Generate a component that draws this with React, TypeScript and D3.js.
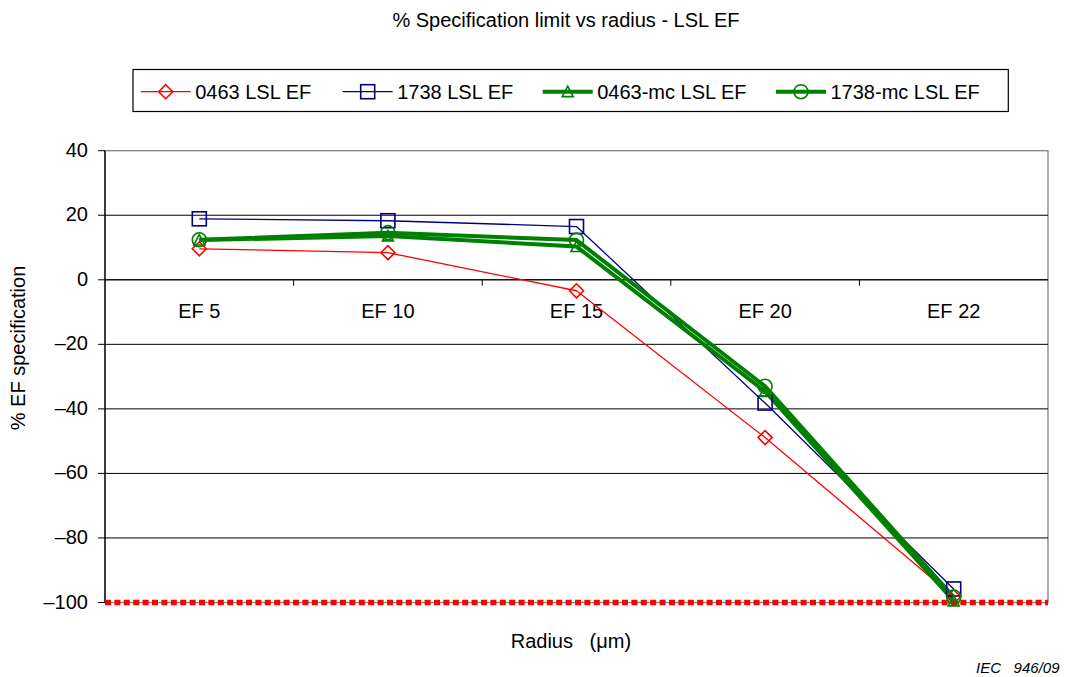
import React from "react";
import * as d3 from "d3";

const categories = ["EF 5", "EF 10", "EF 15", "EF 20", "EF 22"];
const s0463 = [9.6, 8.4, -3.4, -48.9, -98.2];
const s1738 = [18.9, 18.3, 16.5, -38.2, -95.8];
const s0463mc = [12.3, 13.6, 10.3, -34.6, -99.5];
const s1738mc = [12.4, 14.6, 12.3, -33.0, -98.3];
const yTicks = [40, 20, 0, -20, -40, -60, -80, -100];
const limitValue = -100;

type Series = { name: string; values: number[]; color: string; width: number; marker: string };
const series: Series[] = [
  { name: "0463 LSL EF", values: s0463, color: "#FF0000", width: 1.3, marker: "diamond" },
  { name: "1738 LSL EF", values: s1738, color: "#000080", width: 1.3, marker: "square" },
  { name: "0463-mc LSL EF", values: s0463mc, color: "#008000", width: 4, marker: "triangle" },
  { name: "1738-mc LSL EF", values: s1738mc, color: "#008000", width: 4, marker: "circle" },
];

const W = 1066, H = 677;
const L = 105, R = 1048, T = 150.7, B = 602.5;
const FONT = "Arial, 'Liberation Sans', Helvetica, sans-serif";

function Marker({ type, x, y, color }: { type: string; x: number; y: number; color: string }) {
  const common = { fill: "none", stroke: color, strokeWidth: 1.6 };
  if (type === "diamond") {
    const r = 7;
    return <path d={`M${x},${y - r}L${x + r},${y}L${x},${y + r}L${x - r},${y}Z`} {...common} />;
  }
  if (type === "square") {
    const r = 7;
    return <rect x={x - r} y={y - r} width={2 * r} height={2 * r} {...common} />;
  }
  if (type === "triangle") {
    const r = 5.5;
    return <path d={`M${x},${y - r}L${x + r},${y + r * 0.9}L${x - r},${y + r * 0.9}Z`} {...common} />;
  }
  return <circle cx={x} cy={y} r={7} {...common} />;
}

export default function App() {
  const x = d3.scaleBand<string>().domain(categories).range([L, R]);
  const y = d3.scaleLinear().domain([-100, 40]).range([B, T]);
  const cx = (c: string) => (x(c) as number) + x.bandwidth() / 2;
  const line = d3
    .line<number>()
    .x((_, i) => cx(categories[i]))
    .y((v) => y(v));
  const zeroY = y(0);

  const legendItems = [
    { s: series[0], lx: 140.7 },
    { s: series[1], lx: 342.7 },
    { s: series[2], lx: 542.7 },
    { s: series[3], lx: 776 },
  ];
  const legendY = 91.7;

  return (
    <svg width={W} height={H} style={{ position: "absolute", left: 0, top: 0, background: "white" }} fontFamily={FONT}>
      <rect x={0} y={0} width={W} height={H} fill="white" />
      <text x={566} y={27} textAnchor="middle" fontSize={20} fill="#000">
        % Specification limit vs radius - LSL EF
      </text>

      {/* legend */}
      <rect x={133} y={69.5} width={875.3} height={42} fill="white" stroke="#000" strokeWidth={1.2} />
      {legendItems.map(({ s, lx }) => (
        <g key={s.name}>
          <line x1={lx} x2={lx + 50} y1={legendY} y2={legendY} stroke={s.color} strokeWidth={s.width} />
          <Marker type={s.marker} x={lx + 25} y={legendY} color={s.color} />
          <text x={lx + 54.5} y={99.3} fontSize={20} fill="#000">
            {s.name}
          </text>
        </g>
      ))}

      {/* plot frame */}
      <rect x={L} y={T} width={R - L} height={B - T} fill="white" stroke="#808080" strokeWidth={1.3} />
      {yTicks.map((t) => (
        <g key={t}>
          {t !== 40 && t !== -100 && (
            <line x1={L} x2={R} y1={y(t)} y2={y(t)} stroke="#000" strokeWidth={1} />
          )}
          <line x1={L - 7} x2={L} y1={y(t)} y2={y(t)} stroke="#000" strokeWidth={1} />
          <text x={L - 17} y={y(t) + 6} textAnchor="end" fontSize={20} fill="#000">
            {t < 0 ? "\u2013" + Math.abs(t) : String(t)}
          </text>
        </g>
      ))}
      <line x1={L} x2={L} y1={T} y2={B} stroke="#000" strokeWidth={1.3} />

      {/* category axis at zero */}
      <line x1={L} x2={R} y1={zeroY} y2={zeroY} stroke="#000" strokeWidth={1} />
      {categories.slice(1).map((c) => (
        <line key={c} x1={x(c) as number} x2={x(c) as number} y1={zeroY} y2={zeroY + 6} stroke="#000" strokeWidth={1} />
      ))}
      {categories.map((c) => (
        <text key={c} x={cx(c)} y={zeroY + 38.5} textAnchor="middle" fontSize={20} fill="#000">
          {c}
        </text>
      ))}

      {/* limit line */}
      <line
        x1={L}
        x2={R}
        y1={y(limitValue)}
        y2={y(limitValue)}
        stroke="#FF0000"
        strokeWidth={5.5}
        strokeDasharray="6 3.4"
      />

      {/* series */}
      {series.map((s) => (
        <path key={s.name} d={line(s.values) || ""} fill="none" stroke={s.color} strokeWidth={s.width} strokeLinejoin="round" />
      ))}
      {series.map((s) =>
        s.values.map((v, i) => <Marker key={s.name + i} type={s.marker} x={cx(categories[i])} y={y(v)} color={s.color} />)
      )}

      {/* axis titles */}
      <text transform="translate(25,348) rotate(-90)" textAnchor="middle" fontSize={20} fill="#000">
        % EF specification
      </text>
      <text x={510.7} y={648.3} fontSize={20} fill="#000" style={{ whiteSpace: "pre" }} xmlSpace="preserve">
        Radius   (μm)
      </text>
      <text x={1059.5} y={672.7} textAnchor="end" fontSize={15} fontStyle="italic" fill="#000" style={{ whiteSpace: "pre" }} xmlSpace="preserve">
        IEC   946/09
      </text>
    </svg>
  );
}
